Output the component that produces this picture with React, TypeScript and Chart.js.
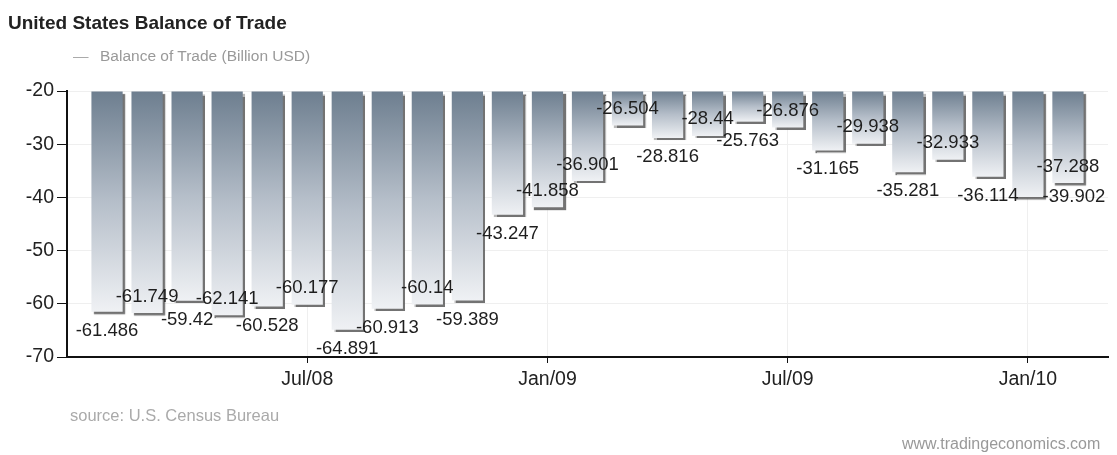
import React, { useEffect, useRef } from "react";
import { Chart, registerables } from "chart.js";

Chart.register(...registerables);

// ---- data ----
const months = [
  "Feb/08", "Mar/08", "Apr/08", "May/08", "Jun/08", "Jul/08", "Aug/08", "Sep/08", "Oct/08", "Nov/08", "Dec/08",
  "Jan/09", "Feb/09", "Mar/09", "Apr/09", "May/09", "Jun/09", "Jul/09", "Aug/09", "Sep/09", "Oct/09", "Nov/09", "Dec/09",
  "Jan/10", "Feb/10",
];
const balance = [
  -61.486, -61.749, -59.42, -62.141, -60.528, -60.177, -64.891, -60.913, -60.14, -59.389, -43.247,
  -41.858, -36.901, -26.504, -28.816, -28.44, -25.763, -26.876, -31.165, -29.938, -35.281, -32.933,
  -36.114, -39.902, -37.288,
];
const shownTickLabels = ["Jul/08", "Jan/09", "Jul/09", "Jan/10"];
const yMin = -70;
const yMax = -20;
const yStep = 10;
const barBase = -20;

const seriesName = "Balance of Trade (Billion USD)";
const titleText = "United States Balance of Trade";
const sourceText = "source: U.S. Census Bureau";
const watermark = "www.tradingeconomics.com";

// ---- styles ----
const FONT = 'Arial, "Liberation Sans", sans-serif';
const LABEL_SIZE = 18.5;
const LABEL_BELOW = 19;
const LABEL_ABOVE = 16.5;
const LABEL_BOX_H = 20.6;

export default function App() {
  const canvasRef = useRef<HTMLCanvasElement | null>(null);

  useEffect(() => {
    if (!canvasRef.current) return;
    const allLabels = ["", ...months, ""];
    const allData: (number | null)[] = [null, ...balance, null];

    const barDecor = {
      id: "barDecor",
      beforeDatasetsDraw(chart: any) {
        const ctx = chart.ctx;
        ctx.save();
        ctx.shadowColor = "rgba(90,90,90,0.85)";
        ctx.shadowOffsetX = 2.5;
        ctx.shadowOffsetY = 2.5;
        ctx.shadowBlur = 1;
      },
      afterDatasetsDraw(chart: any) {
        const ctx = chart.ctx;
        ctx.restore();
        ctx.save();
        ctx.font = `${LABEL_SIZE}px ${FONT}`;
        ctx.fillStyle = "#1e1e1e";
        ctx.textBaseline = "middle";
        const meta = chart.getDatasetMeta(0);
        const placed: { x1: number; x2: number; y1: number; y2: number }[] = [];
        const hit = (b: any) =>
          placed.some((p) => b.x1 < p.x2 && p.x1 < b.x2 && b.y1 < p.y2 && p.y1 < b.y2);
        meta.data.forEach((el: any, i: number) => {
          const v = allData[i];
          if (v == null) return;
          const text = String(v);
          const w = ctx.measureText(text).width;
          const { x, y, width } = el.getProps(["x", "y", "width"], true);
          const cands = [
            { cx: x, cy: y + LABEL_BELOW },
            { cx: x, cy: y - LABEL_ABOVE },
            { cx: x + width / 2 - 1 + w / 2, cy: y },
          ];
          let chosen = cands[cands.length - 1];
          for (const c of cands) {
            const b = { x1: c.cx - w / 2, x2: c.cx + w / 2, y1: c.cy - LABEL_BOX_H / 2, y2: c.cy + LABEL_BOX_H / 2 };
            if (!hit(b)) {
              chosen = c;
              break;
            }
          }
          placed.push({
            x1: chosen.cx - w / 2,
            x2: chosen.cx + w / 2,
            y1: chosen.cy - LABEL_BOX_H / 2,
            y2: chosen.cy + LABEL_BOX_H / 2,
          });
          ctx.textAlign = "center";
          ctx.fillText(text, chosen.cx, chosen.cy);
        });
        ctx.restore();
      },
    };

    const chart = new Chart(canvasRef.current, {
      type: "bar",
      data: {
        labels: allLabels,
        datasets: [
          {
            label: seriesName,
            data: allData,
            base: barBase,
            barPercentage: 0.78,
            categoryPercentage: 1,
            borderWidth: 0,
            backgroundColor: (c: any) => {
              const chart = c.chart;
              if (!chart.chartArea || c.type !== "data" || c.raw == null) return "#9aa6b2";
              const ys = chart.scales.y;
              const top = ys.getPixelForValue(barBase);
              const bot = ys.getPixelForValue(c.raw);
              const g = chart.ctx.createLinearGradient(0, top, 0, bot);
              g.addColorStop(0, "#6d7e8f");
              g.addColorStop(0.5, "#b5bec9");
              g.addColorStop(1, "#eff1f4");
              return g;
            },
          } as any,
        ],
      },
      options: {
        animation: false,
        responsive: false,
        maintainAspectRatio: false,
        layout: { padding: { top: 91, right: 9, left: 0, bottom: 0 } },
        plugins: {
          legend: { display: false },
          tooltip: { enabled: false },
          title: { display: false },
        },
        scales: {
          x: {
            type: "category",
            offset: false,
            grid: {
              offset: false,
              color: (c: any) => (shownTickLabels.includes(allLabels[c.index]) ? "#efefef" : "rgba(0,0,0,0)"),
              tickColor: (c: any) => (shownTickLabels.includes(allLabels[c.index]) ? "#111" : "rgba(0,0,0,0)"),
              tickLength: 6,
              lineWidth: 1,
            },
            border: { color: "#111", width: 2 },
            ticks: {
              autoSkip: false,
              maxRotation: 0,
              minRotation: 0,
              padding: 5,
              color: "#222",
              font: { family: FONT, size: 19.5 },
              callback: (_v: any, i: number) => (shownTickLabels.includes(allLabels[i]) ? allLabels[i] : ""),
            },
            afterFit: (s: any) => {
              s.height = 98;
            },
          },
          y: {
            min: yMin,
            max: yMax,
            grid: { color: "#efefef", tickColor: "#111", tickLength: 10, lineWidth: 1 },
            border: { color: "#111", width: 2 },
            ticks: {
              stepSize: yStep,
              padding: 3,
              color: "#222",
              font: { family: FONT, size: 19.5 },
            },
            afterFit: (s: any) => {
              s.width = 67;
            },
          },
        },
      } as any,
      plugins: [barDecor],
    });
    return () => chart.destroy();
  }, []);

  return (
    <div style={{ position: "absolute", left: 0, top: 0, width: 1117, height: 455, background: "#fff", fontFamily: FONT }}>
      <canvas ref={canvasRef} width={1117} height={455} style={{ position: "absolute", left: 0, top: 0 }} />
      <div style={{ position: "absolute", left: 8, top: 12.5, fontSize: 19, lineHeight: "19px", fontWeight: "bold", color: "#222", whiteSpace: "nowrap" }}>
        {titleText}
      </div>
      <div style={{ position: "absolute", left: 73, top: 48, fontSize: 15.5, lineHeight: "15.5px", color: "#aaa" }}>—</div>
      <div style={{ position: "absolute", left: 100, top: 48, fontSize: 15.5, lineHeight: "15.5px", color: "#999", whiteSpace: "nowrap" }}>
        {seriesName}
      </div>
      <div style={{ position: "absolute", left: 70, top: 407, fontSize: 16.5, lineHeight: "16.5px", color: "#aaa", whiteSpace: "nowrap" }}>
        {sourceText}
      </div>
      <div style={{ position: "absolute", left: 902, top: 435.5, fontSize: 16, lineHeight: "16px", color: "#999", whiteSpace: "nowrap" }}>
        {watermark}
      </div>
    </div>
  );
}
